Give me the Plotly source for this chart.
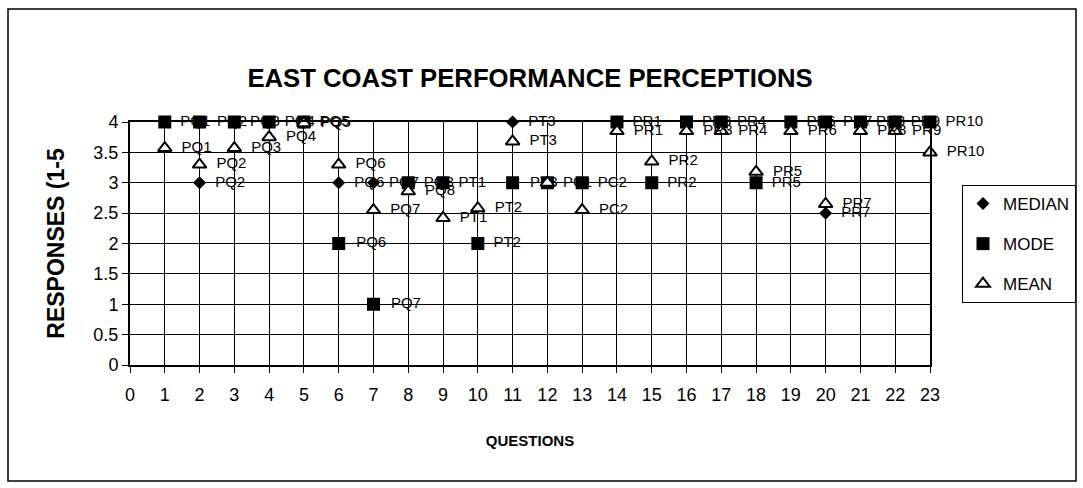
import plotly.graph_objects as go

questions = list(range(1, 24))
labels = ["PQ1", "PQ2", "PQ3", "PQ4", "PQ5", "PQ6", "PQ7", "PQ8",
          "PT1", "PT2", "PT3", "PC1", "PC2",
          "PR1", "PR2", "PR3", "PR4", "PR5", "PR6", "PR7", "PR8", "PR9", "PR10"]
median = [4, 3, 4, 4, 4, 3, 3, 3, 3, 2, 4, 3, 3, 4, 3, 4, 4, 3, 4, 2.5, 4, 4, 4]
mode = [4, 4, 4, 4, 4, 2, 1, 3, 3, 2, 3, 3, 3, 4, 3, 4, 4, 3, 4, 4, 4, 4, 4]
mean = [3.57, 3.3, 3.57, 3.75, 3.98, 3.3, 2.55, 2.86, 2.42, 2.58, 3.68, 3.0, 2.55,
        3.85, 3.35, 3.85, 3.85, 3.18, 3.85, 2.65, 3.85, 3.85, 3.5]

FONT = "Liberation Sans, Arial, sans-serif"
L, R, T, B = 130, 153, 122, 123
W, H = 1083, 488
pw, ph = W - L - R, H - T - B
PAD = "\u00a0\u00a0"

fig = go.Figure()
series = [
    ("MEDIAN", median, dict(symbol="diamond", size=10, color="black")),
    ("MODE", mode, dict(symbol="square", size=13, color="black")),
    ("MEAN", mean, dict(symbol="triangle-up", size=12, color="white",
                         line=dict(color="black", width=2))),
]
drawn = []
for name, vals, mk in series:
    # identical label at identical spot already drawn by a previous series: draw once
    txt = [PAD + lab if all(prev[i] != v for prev in drawn) else ""
           for i, (lab, v) in enumerate(zip(labels, vals))]
    drawn.append(vals)
    fig.add_trace(go.Scatter(
        x=questions, y=vals, mode="markers+text", name=name,
        text=txt, textposition="middle right",
        textfont=dict(family=FONT, size=15, color="black"),
        marker=mk, cliponaxis=False, legendgroup=name,
    ))

fig.update_layout(
    width=W, height=H,
    margin=dict(l=L, r=R, t=T, b=B, autoexpand=False),
    paper_bgcolor="white", plot_bgcolor="white",
    font=dict(family=FONT, color="black"),
    title=dict(text="<b>EAST COAST PERFORMANCE PERCEPTIONS</b>",
               x=530 / W, xanchor="center", y=1 - 78 / H, yanchor="middle",
               font=dict(size=25.7, family=FONT, color="black")),
    legend=dict(x=(962 - L) / pw, xanchor="left", y=(H - B - 185) / ph, yanchor="top",
                bordercolor="black", borderwidth=1, bgcolor="white",
                font=dict(size=17, family=FONT, color="black"),
                tracegroupgap=15, itemwidth=30),
    showlegend=True,
)
fig.update_xaxes(range=[0, 23], dtick=1, tick0=0, showgrid=True, gridcolor="black", gridwidth=1,
                 showline=True, linecolor="black", linewidth=2, mirror=True,
                 ticks="outside", ticklen=6, tickcolor="black", zeroline=False,
                 tickfont=dict(size=18, family=FONT), automargin=False, ticklabelstandoff=6,
                 title=dict(text="<b>QUESTIONS</b>", font=dict(size=15, family=FONT), standoff=32))
fig.update_yaxes(range=[0, 4], dtick=0.5, tick0=0, showgrid=True, gridcolor="black", gridwidth=1,
                 showline=True, linecolor="black", linewidth=2, mirror=True,
                 ticks="outside", ticklen=6, tickcolor="black", zeroline=False,
                 tickfont=dict(size=18, family=FONT), automargin=False,
                 title=dict(text="<b>RESPONSES (1-5</b>", font=dict(size=23, family=FONT), standoff=22))

fig.add_shape(type="rect", xref="paper", yref="paper",
              x0=(8 - L) / pw, x1=(1076 - L) / pw,
              y0=(H - B - 481) / ph, y1=(H - B - 9) / ph,
              line=dict(color="black", width=1.5), fillcolor="rgba(0,0,0,0)", layer="below")

fig.write_html("out.html", config={"displayModeBar": False},
               post_script="document.body.style.margin='0';document.body.style.overflow='hidden';")
